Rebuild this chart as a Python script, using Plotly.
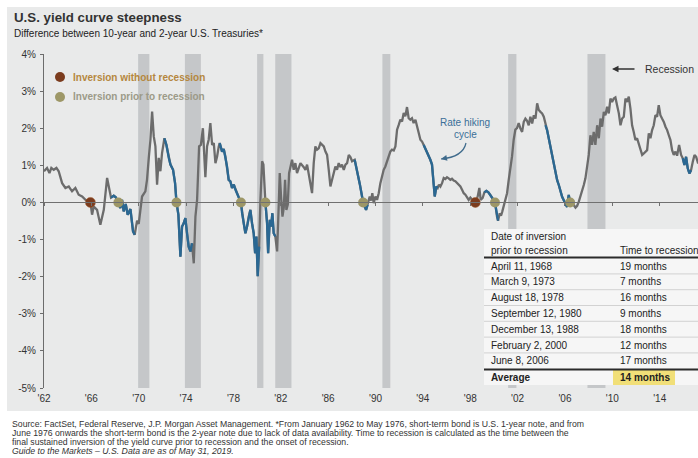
import plotly.graph_objects as go

# ---------------- data ----------------
dates = [
    1962.0, 1962.26, 1962.46, 1962.62, 1962.82, 1963.05, 1963.24, 1963.53, 1963.81, 1964.09,
    1964.37, 1964.65, 1964.93, 1965.22, 1965.5, 1965.78, 1965.92, 1966.06, 1966.2, 1966.48,
    1966.76, 1967.05, 1967.33, 1967.47, 1967.66, 1967.89, 1968.06, 1968.28, 1968.45, 1968.59,
    1968.73, 1968.9, 1969.07, 1969.3, 1969.52, 1969.66, 1969.86, 1970.0, 1970.14, 1970.28,
    1970.56, 1970.7, 1970.85, 1970.99, 1971.13, 1971.27, 1971.41, 1971.55, 1971.69, 1971.83,
    1971.97, 1972.17, 1972.34, 1972.54, 1972.68, 1972.9, 1973.07, 1973.19, 1973.35, 1973.52,
    1973.66, 1973.8, 1973.94, 1974.08, 1974.22, 1974.37, 1974.5, 1974.65, 1974.79, 1974.93,
    1975.1, 1975.25, 1975.42, 1975.63, 1975.77, 1975.91, 1976.05, 1976.2, 1976.34, 1976.48,
    1976.62, 1976.76, 1976.84, 1977.04, 1977.18, 1977.32, 1977.46, 1977.6, 1977.74, 1977.88,
    1978.03, 1978.17, 1978.31, 1978.63, 1978.73, 1978.87, 1979.01, 1979.15, 1979.29, 1979.43,
    1979.57, 1979.71, 1979.83, 1979.94, 1980.05, 1980.17, 1980.28, 1980.42, 1980.53, 1980.62,
    1980.7, 1980.84, 1980.93, 1981.07, 1981.18, 1981.29, 1981.4, 1981.54, 1981.69, 1981.83,
    1981.91, 1982.02, 1982.14, 1982.25, 1982.36, 1982.47, 1982.59, 1982.7, 1982.81, 1982.95,
    1983.09, 1983.23, 1983.37, 1983.52, 1983.66, 1983.94, 1984.08, 1984.22, 1984.5, 1984.64,
    1984.78, 1984.92, 1985.06, 1985.2, 1985.35, 1985.49, 1985.63, 1985.77, 1985.91, 1986.05,
    1986.19, 1986.33, 1986.47, 1986.61, 1986.75, 1986.89, 1987.03, 1987.17, 1987.32, 1987.46,
    1987.6, 1987.74, 1987.88, 1988.02, 1988.24, 1988.39, 1988.53, 1988.67, 1988.84, 1988.95,
    1989.2, 1989.34, 1989.51, 1989.62, 1989.73, 1989.85, 1989.99, 1990.13, 1990.27, 1990.41,
    1990.55, 1990.69, 1990.83, 1990.97, 1991.11, 1991.25, 1991.39, 1991.54, 1991.68, 1991.82,
    1991.96, 1992.1, 1992.24, 1992.38, 1992.52, 1992.66, 1992.8, 1992.94, 1993.08, 1993.22,
    1993.37, 1993.51, 1993.65, 1993.79, 1993.93, 1994.07, 1994.21, 1994.35, 1994.49, 1994.63,
    1994.77, 1994.91, 1995.0, 1995.14, 1995.25, 1995.36, 1995.48, 1995.62, 1995.76, 1995.9,
    1996.04, 1996.18, 1996.32, 1996.46, 1996.6, 1996.74, 1996.88, 1997.03, 1997.17, 1997.31,
    1997.45, 1997.59, 1997.73, 1997.87, 1998.01, 1998.15, 1998.29, 1998.43, 1998.63, 1998.77,
    1998.88, 1999.05, 1999.19, 1999.36, 1999.53, 1999.7, 1999.87, 2000.01, 2000.09, 2000.26,
    2000.35, 2000.49, 2000.6, 2000.71, 2000.83, 2000.97, 2001.11, 2001.25, 2001.39, 2001.53,
    2001.67, 2001.81, 2001.95, 2002.09, 2002.23, 2002.38, 2002.52, 2002.66, 2002.8, 2002.94,
    2003.08, 2003.23, 2003.37, 2003.51, 2003.65, 2003.79, 2003.93, 2004.07, 2004.21, 2004.35,
    2004.49, 2004.63, 2004.77, 2004.91, 2005.06, 2005.2, 2005.34, 2005.48, 2005.62, 2005.76,
    2005.9, 2006.04, 2006.18, 2006.32, 2006.44, 2006.6, 2006.74, 2006.89, 2007.03, 2007.17,
    2007.31, 2007.45, 2007.59, 2007.73, 2007.87, 2008.01, 2008.15, 2008.29, 2008.43, 2008.57,
    2008.72, 2008.86, 2009.0, 2009.14, 2009.28, 2009.42, 2009.56, 2009.7, 2009.84, 2009.98,
    2010.12, 2010.26, 2010.4, 2010.55, 2010.69, 2010.83, 2010.97, 2011.11, 2011.25, 2011.39,
    2011.53, 2011.67, 2011.81, 2011.95, 2012.09, 2012.23, 2012.38, 2012.52, 2012.66, 2012.8,
    2012.94, 2013.08, 2013.22, 2013.36, 2013.5, 2013.64, 2013.78, 2013.92, 2014.06, 2014.2,
    2014.35, 2014.49, 2014.63, 2014.77, 2014.91, 2015.05, 2015.19, 2015.33, 2015.47, 2015.64,
    2015.81, 2015.95, 2016.09, 2016.23, 2016.37, 2016.51, 2016.65, 2016.8, 2016.94, 2017.08,
    2017.22, 2017.33,
]
spread = [
    0.84, 0.93, 0.79, 0.93, 0.88, 0.93, 0.84, 0.52, 0.39, 0.43,
    0.30, 0.39, 0.21, 0.16, 0.07, 0.04, 0.0, -0.33, -0.11, -0.2,
    -0.6, -0.2, 0.66, 0.39, 0.13, 0.18, 0.14, 0.0, -0.15, 0.07,
    -0.24, -0.04, -0.33, -0.18, -0.78, -0.87, -0.49, -0.58, -0.2, 0.16,
    0.3, 0.61, 1.2, 1.69, 2.45, 1.78, 1.51, 0.48, 1.2, 0.84,
    1.33, 1.73, 1.55, 1.2, 1.02, 0.88, 0.52, 0.0, -0.33, -1.46,
    -0.65, -0.56, -0.42, -0.83, -1.19, -1.32, -1.1, -1.64, -0.38, 0.07,
    1.51, 1.55, 2.0, 0.68, 1.51, 1.69, 2.14, 1.55, 1.6, 1.06,
    1.24, 1.51, 1.6, 1.37, 1.44, 1.24, 0.97, 0.61, 0.57, 0.39,
    0.48, 0.34, 0.25, 0.0, -0.29, -0.56, -0.83, -0.65, -0.38, -0.2,
    -0.56, -0.83, -1.37, -0.92, -1.99, -1.19, 0.07, 1.11, 1.02, 0.43,
    0.0, -0.56, -1.37, -0.47, -0.65, -0.29, -0.83, -0.92, -1.32, -0.02,
    0.79, 0.16, -0.38, -0.15, 0.61, -0.2, -0.06, 0.79, 0.93, 1.15,
    0.88, 1.06, 0.79, 0.97, 1.06, 0.95, 0.88, 1.02, 0.52, 0.25,
    1.06, 1.51, 1.42, 1.46, 1.6, 1.54, 1.51, 1.37, 1.28, 0.88,
    0.43, 0.61, 0.79, 0.97, 0.88, 1.06, 0.95, 1.02, 0.88, 1.02,
    1.06, 1.28, 1.22, 1.11, 1.15, 0.95, 0.7, 0.5, 0.2, 0.0,
    -0.2, -0.06, 0.16, 0.05, 0.25, -0.02, 0.16, 0.07, 0.25, 0.52,
    0.7, 0.88, 0.97, 1.1, 1.28, 1.37, 1.42, 1.4, 1.51, 1.96,
    2.09, 2.23, 2.18, 2.41, 2.32, 2.57, 2.27, 2.23, 2.27, 2.14,
    2.23, 2.0, 1.87, 1.69, 1.64, 1.55, 1.46, 1.37, 1.24, 1.15,
    1.02, 0.52, 0.16, 0.43, 0.39, 0.48, 0.43, 0.52, 0.66, 0.63,
    0.68, 0.65, 0.61, 0.64, 0.59, 0.57, 0.52, 0.48, 0.43, 0.34,
    0.25, 0.21, 0.12, 0.07, 0.13, 0.07, 0.03, 0.0, 0.16, 0.39,
    0.07, 0.12, 0.27, 0.31, 0.27, 0.2, 0.12, 0.05, 0.0, -0.38,
    -0.49, -0.29, -0.36, -0.24, -0.11, 0.03, 0.25, 0.61, 0.88, 1.24,
    1.69, 1.96, 2.0, 2.14, 2.0, 1.9, 2.17, 2.26, 2.2, 2.08,
    2.31, 2.13, 2.35, 2.26, 2.67, 2.49, 2.44, 2.4, 2.31, 2.08,
    1.95, 1.73, 1.5, 1.28, 1.01, 0.78, 0.6, 0.47, 0.29, 0.15,
    0.06, -0.04, -0.12, 0.2, 0.0, -0.05, -0.07, -0.14, -0.09, 0.02,
    0.15, 0.29, 0.47, 0.65, 0.92, 1.28, 1.81, 1.55, 1.9, 1.55,
    2.08, 1.73, 2.26, 2.04, 2.44, 2.35, 2.58, 2.4, 2.8, 2.71,
    2.8, 2.83, 2.62, 2.4, 2.08, 2.26, 2.31, 2.8, 2.71, 2.85,
    2.53, 2.08, 1.9, 1.68, 1.73, 1.59, 1.41, 1.28, 1.32, 1.37,
    1.41, 1.86, 1.73, 1.95, 2.08, 2.35, 2.31, 2.62, 2.35, 2.26,
    2.17, 2.04, 1.95, 1.81, 1.68, 1.41, 1.28, 1.37, 1.26, 1.55,
    1.28, 1.19, 1.01, 1.23, 0.92, 0.78, 0.87, 1.1, 1.28, 1.23,
    1.08, 1.1,
]

hiking_cycles = [
    (1967.66, 1969.66), (1972.17, 1974.5), (1976.84, 1980.17), (1980.7, 1981.54),
    (1988.24, 1989.34), (1994.07, 1995.25), (1999.19, 2000.35), (2004.35, 2006.6),
    (2015.95, 2016.65),
]
recessions = [
    (1969.95, 1970.9), (1973.9, 1975.25), (1980.0, 1980.53), (1981.53, 1982.9),
    (1990.58, 1991.25), (2001.2, 2001.9), (2007.9, 2009.42),
]
inversions_without_recession = [1965.92, 1998.43]
inversions_prior_to_recession = [1968.28, 1973.19, 1978.63, 1980.7, 1988.95, 2000.09, 2006.44]

x_tick_years = [1962, 1966, 1970, 1974, 1978, 1982, 1986, 1990, 1994, 1998, 2002, 2006, 2010, 2014]
x_tick_labels = ["'62", "'66", "'70", "'74", "'78", "'82", "'86", "'90", "'94", "'98", "'02", "'06", "'10", "'14"]
y_ticks = [-5, -4, -3, -2, -1, 0, 1, 2, 3, 4]
y_tick_labels = ["-5%", "-4%", "-3%", "-2%", "-1%", "0%", "1%", "2%", "3%", "4%"]

table_dates = ["April 11, 1968", "March 9, 1973", "August 18, 1978", "September 12, 1980",
               "December 13, 1988", "February 2, 2000", "June 8, 2006"]
table_months = [19, 7, 16, 9, 18, 12, 17]

# ---------------- geometry helpers ----------------
W, H = 698, 458
L, R, T, B = 44, 698, 54, 388
PX_PER_YEAR = 11.84
FONT = "Arial, Liberation Sans, sans-serif"


def fx(p):
    return (p - L) / (R - L)


def fy(p):
    return (B - p) / (B - T)


GRAY = "#6c6c6c"
BLUE = "#2a6893"

# blue (rate hiking) series
bx, by = [], []
for s, e in hiking_cycles:
    for d, v in zip(dates, spread):
        if s <= d <= e:
            bx.append(d)
            by.append(v)
    bx.append(None)
    by.append(None)

fig = go.Figure()
fig.add_trace(go.Scatter(x=dates, y=spread, mode="lines", line=dict(color=GRAY, width=2.3),
                         hoverinfo="skip", showlegend=False))
fig.add_trace(go.Scatter(x=bx, y=by, mode="lines", line=dict(color=BLUE, width=2.3),
                         hoverinfo="skip", showlegend=False, connectgaps=False))
fig.add_trace(go.Scatter(x=inversions_without_recession, y=[0] * len(inversions_without_recession),
                         mode="markers", marker=dict(color="#7b3c1e", size=10,
                                                     line=dict(color="#a0582a", width=0.5)),
                         showlegend=False, hoverinfo="skip"))
fig.add_trace(go.Scatter(x=inversions_prior_to_recession, y=[0] * len(inversions_prior_to_recession),
                         mode="markers", marker=dict(color="#9d9767", size=10),
                         showlegend=False, hoverinfo="skip"))
# dummy trace for the zero-line axis
fig.add_trace(go.Scatter(x=[1990], y=[0], xaxis="x2", yaxis="y", mode="markers",
                         marker=dict(opacity=0), showlegend=False, hoverinfo="skip"))

xr = [1962, 1962 + (R - L) / PX_PER_YEAR]

shapes = []
# chart background panel
shapes.append(dict(type="rect", xref="paper", yref="paper", x0=fx(7), x1=fx(702), y0=fy(411), y1=fy(7),
                   fillcolor="#e9eaea", line=dict(width=0), layer="below"))
for s, e in recessions:
    shapes.append(dict(type="rect", xref="x", yref="paper", x0=s, x1=e, y0=0, y1=1,
                       fillcolor="#c5c7c9", line=dict(width=0), layer="below"))

# table
tl, tr, tt = 484, 702, 229
row_h = 15.8
rule1 = 257.5
first_row = 266
rule2 = first_row + row_h * (len(table_dates) - 1) + 8.7
avg_y = rule2 + 7.5
tb = rule2 + 15.5
shapes.append(dict(type="rect", xref="paper", yref="paper", x0=fx(tl), x1=fx(tr), y0=fy(tb), y1=fy(tt),
                   fillcolor="#f6f6f6", line=dict(width=0), layer="above"))
for i in range(len(table_dates) - 1):
    yy = first_row + row_h * i + row_h / 2
    shapes.append(dict(type="line", xref="paper", yref="paper", x0=fx(tl), x1=fx(tr), y0=fy(yy), y1=fy(yy),
                       line=dict(color="#d2d2d2", width=1), layer="above"))
shapes.append(dict(type="rect", xref="paper", yref="paper", x0=fx(613), x1=fx(675), y0=fy(tb), y1=fy(rule2),
                   fillcolor="#f1df78", line=dict(width=0), layer="above"))
for yy in (rule1, rule2):
    shapes.append(dict(type="line", xref="paper", yref="paper", x0=fx(tl), x1=fx(tr), y0=fy(yy), y1=fy(yy),
                       line=dict(color="#2b2b2b", width=2), layer="above"))
# legend dots
for cy, col in ((77, "#7b3c1e"), (97, "#9d9767")):
    shapes.append(dict(type="circle", xref="paper", yref="paper", x0=fx(55), x1=fx(65), y0=fy(cy + 5),
                       y1=fy(cy - 5), fillcolor=col, line=dict(width=0), layer="above"))
# curved "rate hiking" arrow
p0 = (466, 143)
pc = (463, 157)
p1 = (441, 159)
shapes.append(dict(type="path", xref="paper", yref="paper",
                   path=f"M {fx(p0[0])},{fy(p0[1])} Q {fx(pc[0])},{fy(pc[1])} {fx(p1[0])},{fy(p1[1])}",
                   line=dict(color="#3f6b8c", width=1.2), layer="above"))

ann = []


def text(x, y, s, size=10, color="#222", anchor="left", bold=False, italic=False):
    if bold:
        s = f"<b>{s}</b>"
    if italic:
        s = f"<i>{s}</i>"
    ann.append(dict(x=fx(x), y=fy(y), xref="paper", yref="paper", text=s, showarrow=False,
                    xanchor=anchor, yanchor="middle", font=dict(family=FONT, size=size, color=color)))


text(12, 17, "U.S. yield curve steepness", size=13.3, color="#333", bold=True)
text(12, 33, "Difference between 10-year and 2-year U.S. Treasuries*", size=10, color="#222")
text(71, 77, "Inversion without recession", size=10, color="#b5873e", bold=True)
text(71, 97, "Inversion prior to recession", size=10, color="#9c9a88", bold=True)
text(465, 122, "Rate hiking", size=10, color="#3b6f98", anchor="center")
text(465, 134, "cycle", size=10, color="#3b6f98", anchor="center")
text(643, 69, "Recession", size=10.5, color="#333")

# arrowheads
ann.append(dict(x=fx(p1[0]), y=fy(p1[1]), xref="paper", yref="paper", text="", showarrow=True,
                ax=5, ay=-1, arrowhead=2, arrowsize=1, arrowwidth=1.2, arrowcolor="#3f6b8c"))
ann.append(dict(x=fx(612), y=fy(69), xref="paper", yref="paper", text="", showarrow=True,
                ax=24, ay=0, arrowhead=2, arrowsize=1, arrowwidth=1.3, arrowcolor="#333"))

# table text
text(489, 237, "Date of inversion", size=10)
text(489, 250, "prior to recession", size=10)
text(618, 250, "Time to recession", size=10)
for i, (d, m) in enumerate(zip(table_dates, table_months)):
    yy = first_row + row_h * i
    text(489, yy, d, size=10)
    text(618, yy, f"{m} months", size=10)
avg_months = round(sum(table_months) / len(table_months))
text(489, avg_y, "Average", size=10, bold=True)
text(618, avg_y, f"{avg_months} months", size=10, bold=True)

# footnotes
foot = [
    "Source: FactSet, Federal Reserve, J.P. Morgan Asset Management. *From January 1962 to May 1976, short-term bond is U.S. 1-year note, and from",
    "June 1976 onwards the short-term bond is the 2-year note due to lack of data availability. Time to recession is calculated as the time between the",
    "final sustained inversion of the yield curve prior to recession and the onset of recession.",
]
for i, line in enumerate(foot):
    text(10, 424 + 9 * i, line, size=8.7, color="#333")
text(10, 451, "Guide to the Markets \u2013 U.S. Data are as of May 31, 2019.", size=8.7, color="#333", italic=True)

fig.update_layout(
    width=W, height=H,
    margin=dict(l=L, r=W - R, t=T, b=H - B, pad=0),
    paper_bgcolor="white", plot_bgcolor="#e9eaea",
    showlegend=False,
    font=dict(family=FONT, size=10, color="#333"),
    shapes=shapes, annotations=ann,
    xaxis=dict(range=xr, tickvals=x_tick_years, ticktext=x_tick_labels, showgrid=False, zeroline=False,
               showline=False, ticks="", tickfont=dict(size=10, color="#333"), ticklabelstandoff=3),
    xaxis2=dict(range=xr, overlaying="x", anchor="free", position=5 / 9, side="bottom",
                tickvals=x_tick_years, showticklabels=False, ticks="outside", ticklen=3,
                tickcolor="#707070", showline=True, linecolor="#707070", linewidth=1,
                showgrid=False, zeroline=False),
    yaxis=dict(range=[-5, 4], tickvals=y_ticks, ticktext=y_tick_labels, showgrid=False, zeroline=False,
               showline=True, linecolor="#6c6c6c", linewidth=1, ticks="outside", ticklen=3,
               tickcolor="#6c6c6c", tickfont=dict(size=10, color="#333"), ticklabelstandoff=2),
)

fig.write_html("out.html")
